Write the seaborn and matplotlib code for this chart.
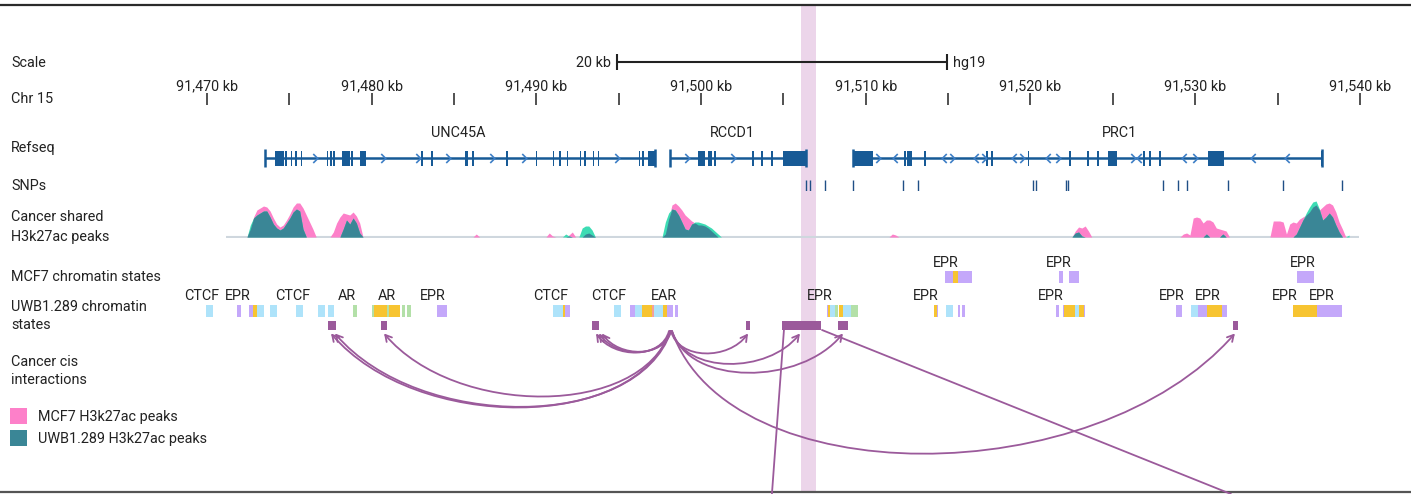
import numpy as np
import matplotlib
matplotlib.use("Agg")
import matplotlib.pyplot as plt
from matplotlib.path import Path
from matplotlib.patches import FancyArrowPatch, Rectangle
from matplotlib.transforms import blended_transform_factory
import seaborn as sns

# ---------------- data (chr15, hg19, positions in kb) ----------------
ruler_ticks = np.arange(91470, 91541, 5)
ruler_labels = np.arange(91470, 91541, 10)
scale_start = 91494.9
scale_kb = 20
highlight_kb = (91506.06, 91506.98)

gene_names = ["UNC45A", "RCCD1", "PRC1"]
gene_start = [91473.52, 91498.11, 91509.22]
gene_end = [91497.20, 91506.37, 91537.70]
gene_label_kb = [91485.24, 91501.88, 91525.43]

unc45a_exon_start = [91474.13, 91474.74, 91475.07, 91475.37, 91475.68, 91477.26, 91477.47, 91477.68,
                     91478.20, 91478.77, 91479.29, 91483.02, 91483.63, 91485.66, 91486.12, 91488.18,
                     91489.95, 91490.98, 91491.40, 91491.83, 91492.62, 91492.92, 91493.41, 91493.71,
                     91496.20, 91496.44, 91496.78]
unc45a_exon_end = [91474.68, 91474.86, 91475.16, 91475.46, 91475.77, 91477.35, 91477.59, 91477.77,
                   91478.68, 91478.86, 91479.65, 91483.11, 91483.72, 91485.85, 91486.21, 91488.27,
                   91490.04, 91491.07, 91491.49, 91491.92, 91492.71, 91493.01, 91493.50, 91493.80,
                   91496.29, 91496.53, 91497.20]
rccd1_exon_start = [91499.81, 91500.42, 91500.80, 91503.11, 91503.66, 91504.27, 91504.97]
rccd1_exon_end = [91500.24, 91500.66, 91500.89, 91503.20, 91503.75, 91504.36, 91506.37]
prc1_exon_start = [91509.22, 91512.32, 91512.50, 91513.55, 91517.32, 91517.62, 91519.82, 91522.36,
                   91523.45, 91524.06, 91524.71, 91526.85, 91527.22, 91527.82, 91530.78, 91537.64]
prc1_exon_end = [91510.44, 91512.41, 91512.80, 91513.64, 91517.41, 91517.71, 91519.91, 91522.45,
                 91523.54, 91524.15, 91525.25, 91526.94, 91527.31, 91527.91, 91531.75, 91537.76]

plus_strand_marks = [91476.56, 91480.69, 91482.81, 91484.63, 91487.30, 91489.25, 91494.89,
                     91499.14, 91501.94,
                     91510.74, 91515.24, 91517.18, 91519.48, 91521.67, 91526.22, 91529.99]
minus_strand_marks = [91511.77, 91514.75, 91516.69, 91519.00, 91521.06, 91526.59, 91529.32,
                      91533.51, 91535.57]

snp_kb = [91506.37, 91506.61, 91507.52, 91509.22, 91512.26, 91513.17, 91520.15, 91520.33,
          91522.16, 91522.28, 91528.04, 91528.96, 91529.50, 91531.99, 91535.33, 91538.91]

# H3K27ac signal, sampled every 0.2 kb from each region start
peak_bin_kb = 0.2
peak_start = [91472.43, 91477.47, 91486.15, 91490.58, 91497.63, 91511.41, 91522.52, 91529.08, 91534.54]
mcf7_signal = [
    [0, 8, 20, 27, 29, 31, 30, 26, 19, 13, 10, 12, 17, 23, 30, 34, 34, 29, 22, 15, 8, 0],
    [0, 5, 14, 20, 24, 23, 22, 25, 21, 14, 0],
    [0, 3, 0],
    [0, 4, 1, 0, 0, 0, 0, 2, 5, 0, 0, 0, 3, 4, 2, 0],
    [0, 3, 18, 32, 34, 31, 27, 22, 19, 16, 14, 12, 12, 11, 9, 6, 3, 0, 0],
    [0, 3, 2, 0],
    [0, 6, 10, 9, 11, 6, 0],
    [0, 3, 4, 2, 19, 20, 19, 14, 17, 17, 15, 9, 8, 7, 6, 0],
    [0, 16, 16, 16, 15, 3, 13, 15, 14, 18, 20, 22, 25, 30, 32, 27, 30, 33, 34, 32, 25, 15, 8, 0, 0],
]
uwb_signal = [
    [0, 12, 19, 22, 24, 26, 26, 20, 13, 9, 7, 9, 14, 19, 25, 28, 26, 8, 0, 0, 0, 0],
    [0, 0, 0, 0, 8, 17, 13, 19, 14, 4, 0],
    [0, 0, 0],
    [0, 0, 0, 0, 0, 0, 3, 1, 0, 0, 0, 9, 11, 11, 7, 0],
    [0, 15, 24, 28, 27, 22, 15, 8, 7, 13, 15, 15, 14, 13, 11, 9, 6, 3, 0],
    [0, 0, 0, 0],
    [0, 4, 5, 1, 0, 0, 0],
    [0, 0, 0, 0, 0, 0, 0, 0, 3, 0, 0, 0, 0, 3, 0, 0],
    [0, 0, 0, 0, 0, 0, 0, 0, 3, 10, 17, 24, 30, 35, 36, 28, 17, 20, 24, 20, 12, 5, 0, 0, 2],
]

mcf7_state_start = [91514.81, 91515.29, 91515.60, 91521.73, 91522.34, 91536.18]
mcf7_state_end = [91515.29, 91515.60, 91516.45, 91521.97, 91522.94, 91537.21]
mcf7_state = ["P", "Y", "P", "P", "P", "P"]
mcf7_label_kb = [91514.87, 91521.73, 91536.55]
mcf7_label = ["EPR", "EPR", "EPR"]

uwb_state_start = [91469.94, 91471.82, 91472.55, 91472.79, 91473.04, 91473.83, 91475.40, 91476.74,
                   91477.35, 91478.86, 91480.02, 91480.14, 91480.93, 91481.05, 91481.84, 91482.14,
                   91483.96, 91491.01, 91491.61, 91491.74, 91494.71, 91495.68, 91495.99, 91496.41,
                   91497.02, 91497.14, 91497.68, 91497.93, 91498.41, 91507.64, 91507.70, 91507.82,
                   91508.13, 91508.37, 91508.61, 91509.10, 91514.14, 91514.32, 91514.87, 91515.60,
                   91515.84, 91521.55, 91521.97, 91522.03, 91522.70, 91522.94, 91523.25, 91528.83,
                   91529.74, 91530.17, 91530.72, 91531.63, 91535.94, 91537.39]
uwb_state_end = [91470.36, 91472.06, 91472.79, 91473.04, 91473.46, 91474.25, 91475.83, 91477.16,
                 91477.71, 91479.11, 91480.14, 91480.93, 91481.05, 91481.72, 91482.02, 91482.39,
                 91484.57, 91491.61, 91491.74, 91492.04, 91495.14, 91495.99, 91496.41, 91497.02,
                 91497.14, 91497.68, 91497.93, 91498.29, 91498.60, 91507.70, 91507.82, 91508.13,
                 91508.31, 91508.61, 91509.10, 91509.52, 91514.32, 91514.38, 91515.29, 91515.72,
                 91516.02, 91521.73, 91522.03, 91522.70, 91522.94, 91523.25, 91523.31, 91529.20,
                 91530.17, 91530.72, 91531.63, 91531.93, 91537.39, 91538.91]
uwb_state = ["C", "P", "P", "Y", "C", "C", "C", "C", "C", "G", "G", "Y", "G", "Y", "G", "G",
             "P", "C", "Y", "P", "C", "P", "C", "Y", "S", "C", "Y", "P", "P", "P", "Y", "C",
             "G", "Y", "C", "G", "Y", "P", "C", "P", "P", "P", "P", "Y", "C", "Y", "P", "P",
             "C", "P", "Y", "P", "Y", "P"]
uwb_label_kb = [91469.70, 91471.88, 91475.22, 91478.50, 91480.93, 91483.72, 91490.89, 91494.41,
                91497.75, 91507.22, 91513.65, 91521.24, 91528.59, 91530.78, 91535.45, 91537.70]
uwb_label = ["CTCF", "EPR", "CTCF", "AR", "AR", "EPR", "CTCF", "CTCF",
             "EAR", "EPR", "EPR", "EPR", "EPR", "EPR", "EPR", "EPR"]

anchor_start = [91477.35, 91480.56, 91493.38, 91502.73, 91504.91, 91508.31, 91532.29]
anchor_end = [91477.83, 91480.93, 91493.80, 91502.97, 91507.28, 91508.92, 91532.60]

loop_from = [91498.11, 91498.17, 91498.11, 91498.05, 91498.11, 91498.17, 91498.17, 91498.23,
             91498.23, 91498.23]
loop_to = [91477.53, 91477.77, 91480.75, 91493.62, 91493.80, 91493.98, 91502.85, 91506.00,
           91508.61, 91532.41]
# interactions leaving the window
far_from = [91505.03, 91507.34]
far_to = [91504.30, 91532.17]

# ---------------- styling ----------------
W, H = 1411, 494
PX_PER_KB = 16.47
XMIN = 91470 - 207 / PX_PER_KB
XMAX = XMIN + W / PX_PER_KB

TXT = "#222222"
GENE = "#175a96"
GENE_MARK = "#3e7fc6"
SNP_C = "#1f4f86"
PINK = "#fd80c9"
TURQ = "#3ddcb4"
TEAL = "#3a8696"
LOOP = "#9b5a9b"
BAND = "#ecd5ea"
STATE_COLORS = {"C": "#aee3fa", "P": "#c4a8fa", "Y": "#f7c431", "G": "#b3e0a8", "S": "#f4a09b"}

sns.set_theme(style="white")
plt.rcParams["font.family"] = ["Roboto", "DejaVu Sans"]
FS = 10.4
TY = 1.0  # small downward nudge so text centres sit on the track rows

fig = plt.figure(figsize=(W / 100, H / 100), dpi=100)
ax = fig.add_axes([0, 0, 1, 1])
ax.set_xlim(XMIN, XMAX)
ax.set_ylim(H, 0)
ax.axis("off")
left = blended_transform_factory(ax.transAxes, ax.transData)


def label(xpx, ypx, s, **kw):
    ax.text(xpx / W, ypx + TY, s, transform=left, fontsize=FS, color=TXT, va="center", **kw)


def track_text(x, y, s, **kw):
    ax.text(x, y + TY, s, fontsize=FS, color=TXT, va="center", **kw)


# frame lines and highlighted region
ax.axhline(5, color="#2b2b2b", lw=1.6)
ax.axhline(492, color="#555555", lw=1.6)
ax.add_patch(Rectangle((highlight_kb[0], 6), highlight_kb[1] - highlight_kb[0], 485,
                       color=BAND, lw=0, zorder=0))

# track labels
label(11, 62, "Scale")
label(11, 98, "Chr 15")
label(11, 147, "Refseq")
label(11, 185, "SNPs")
label(11, 216, "Cancer shared")
label(11, 236, "H3k27ac peaks")
label(11, 276, "MCF7 chromatin states")
label(11, 306, "UWB1.289 chromatin")
label(11, 324, "states")
label(11, 361, "Cancer cis")
label(11, 379, "interactions")

# legend
for ypx, col, txt in [(416, PINK, "MCF7 H3k27ac peaks"), (438, TEAL, "UWB1.289 H3k27ac peaks")]:
    ax.add_patch(Rectangle((10 / W, ypx - 8), 17 / W, 16, transform=left, color=col, lw=0))
    label(38, ypx, txt)

# scale bar
scale_end = scale_start + scale_kb
ax.hlines(62, scale_start, scale_end, color=TXT, lw=1.5)
ax.vlines([scale_start, scale_end], 54, 70, color=TXT, lw=1.5)
track_text(scale_start - 0.4, 62, f"{scale_kb} kb", ha="right")
track_text(scale_end + 0.4, 62, "hg19", ha="left")

# ruler
ax.vlines(ruler_ticks, 93, 105, color=TXT, lw=1.1)
for v in ruler_labels:
    track_text(v, 85, f"{v:,} kb", ha="center")

# genes
exons = [(unc45a_exon_start, unc45a_exon_end), (rccd1_exon_start, rccd1_exon_end),
         (prc1_exon_start, prc1_exon_end)]
for name, gs, ge, gl, (es, ee) in zip(gene_names, gene_start, gene_end, gene_label_kb, exons):
    ax.hlines(158, gs, ge, color=GENE, lw=1.8)
    ax.vlines([gs, ge], 149.5, 167, color=GENE, lw=1.8)
    for s, e in zip(es, ee):
        ax.add_patch(Rectangle((s, 150.5), max(e - s, 0.11), 15, color=GENE, lw=0))
    track_text(gl, 132, name, ha="center")

chev_r = Path([(-0.5, 1), (0.5, 0), (-0.5, -1)], [Path.MOVETO, Path.LINETO, Path.LINETO])
chev_l = Path([(0.5, 1), (-0.5, 0), (0.5, -1)], [Path.MOVETO, Path.LINETO, Path.LINETO])
ax.plot(plus_strand_marks, [158] * len(plus_strand_marks), ls="none", marker=chev_r,
        ms=6.5, mfc="none", mec=GENE_MARK, mew=1.2)
ax.plot(minus_strand_marks, [158] * len(minus_strand_marks), ls="none", marker=chev_l,
        ms=6.5, mfc="none", mec=GENE_MARK, mew=1.2)

# SNPs
axs = fig.add_axes([0, (H - 191) / H, 1, 11 / H])
axs.set_facecolor("none")
sns.rugplot(x=snp_kb, height=1, ax=axs, color=SNP_C, lw=1.6, expand_margins=False)
axs.set_xlim(XMIN, XMAX)
axs.set_ylim(0, 1)
axs.axis("off")

# H3K27ac peaks
axp = fig.add_axes([0, (H - 238) / H, 1, 41 / H])
axp.set_facecolor("none")
axp.set_xlim(XMIN, XMAX)
axp.set_ylim(-1, 40)
axp.axis("off")
axp.hlines(0, 91471.15, 91539.95, color="#cfd7de", lw=1.5, zorder=0)
for st, m, u in zip(peak_start, mcf7_signal, uwb_signal):
    x = st + peak_bin_kb * np.arange(len(m))
    m = np.asarray(m, float)
    u = np.asarray(u, float)
    axp.fill_between(x, 0, m, color=PINK, lw=0, zorder=1)
    axp.fill_between(x, 0, u, color=TURQ, lw=0, zorder=2)
    axp.fill_between(x, 0, np.minimum(m, u), color=TEAL, lw=0, zorder=3)

# chromatin states
for starts, ends, states, y0 in [(mcf7_state_start, mcf7_state_end, mcf7_state, 271),
                                 (uwb_state_start, uwb_state_end, uwb_state, 305)]:
    for s, e, k in zip(starts, ends, states):
        ax.add_patch(Rectangle((s, y0), e - s, 12, color=STATE_COLORS[k], lw=0))
for x, t in zip(mcf7_label_kb, mcf7_label):
    track_text(x, 262, t, ha="center")
for x, t in zip(uwb_label_kb, uwb_label):
    track_text(x, 295, t, ha="center")

# interaction anchors and loops
for s, e in zip(anchor_start, anchor_end):
    ax.add_patch(Rectangle((s, 321), e - s, 9, color=LOOP, lw=0))

HUB_Y, TIP_Y = 331, 333.5
for s, t in zip(loop_from, loop_to):
    dx = t - s
    depth = (6 + 3.4 * abs(dx)) / 0.75
    verts = [(s, HUB_Y), (s + 0.1 * dx, HUB_Y + depth), (t - 0.25 * dx, HUB_Y + depth), (t, TIP_Y)]
    path = Path(verts, [Path.MOVETO, Path.CURVE4, Path.CURVE4, Path.CURVE4])
    ax.add_patch(FancyArrowPatch(path=path, arrowstyle="->,head_length=0.45,head_width=0.25",
                                 mutation_scale=10, lw=1.3, color=LOOP, shrinkA=0, shrinkB=0))
for s, t in zip(far_from, far_to):
    ax.plot([s, t], [330, H], color=LOOP, lw=1.3)

fig.savefig("out.png", dpi=100)
